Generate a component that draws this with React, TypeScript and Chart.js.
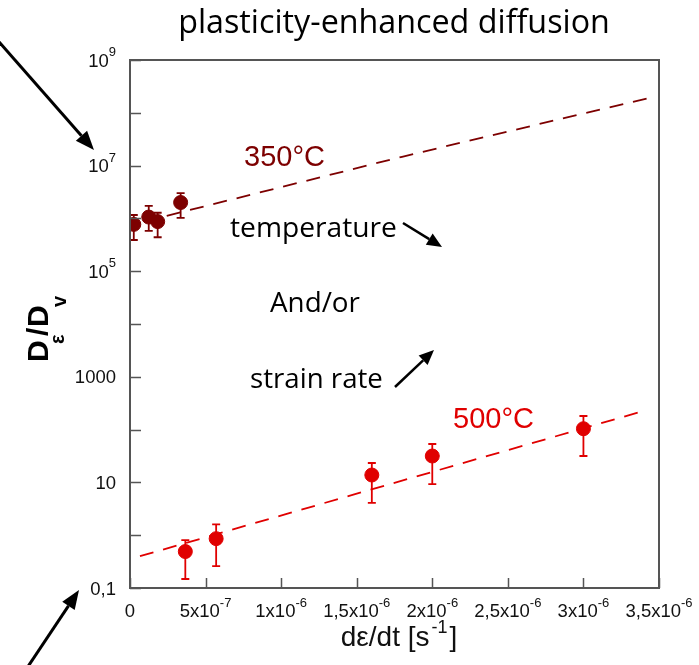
import React, { useEffect, useRef } from "react";
import { Chart, registerables } from "chart.js";

Chart.register(...registerables);

// ---------------- data ----------------
const xTickValues = [0, 5e-7, 1e-6, 1.5e-6, 2e-6, 2.5e-6, 3e-6, 3.5e-6];
const xTickBase = ["0", "5x10", "1x10", "1,5x10", "2x10", "2,5x10", "3x10", "3,5x10"];
const xTickExp = ["", "-7", "-6", "-6", "-6", "-6", "-6", "-6"];

const yMajorValues = [0.1, 10, 1000, 1e5, 1e7, 1e9];
const yTickBase = ["0,1", "10", "1000", "10", "10", "10"];
const yTickExp = ["", "", "", "5", "7", "9"];
const yMinorValues = [1, 100, 1e4, 1e6, 1e8];

// 350 °C measurements
const rate350 = [2.5e-8, 1.24e-7, 1.83e-7, 3.35e-7];
const d350 = [7.7e5, 1.06e6, 8.7e5, 2.0e6];
const d350Low = [3.9e5, 5.8e5, 4.4e5, 1.02e6];
const d350High = [1.16e6, 1.72e6, 1.28e6, 3.0e6];
// 350 °C fit
const fit350Rate = [2.43e-7, 1.8e-6, 2.82e-6, 3.44e-6];
const fit350D = [1.12e6, 1.47e7, 7.3e7, 1.93e8];

// 500 °C measurements
const rate500 = [3.66e-7, 5.7e-7, 1.6e-6, 2.0e-6, 3.0e-6];
const d500 = [0.49, 0.86, 13.8, 31.6, 104];
const d500Low = [0.148, 0.26, 4.1, 9.3, 31.6];
const d500High = [0.81, 1.61, 23.3, 53.4, 181];
// 500 °C fit
const fit500Rate = [6.6e-8, 3.42e-6];
const fit500D = [0.4, 235];

// ---------------- styles ----------------
const MAROON = "#7d0000";
const RED = "#e00000";
const AXIS = "#555555";
const SANS = '"Liberation Sans", Arial, sans-serif';
const HUM = '"Open Sans", "Noto Sans", sans-serif';

function fitSize(ctx: CanvasRenderingContext2D, text: string, family: string, target: number, weight = "normal") {
  ctx.font = `${weight} 100px ${family}`;
  const w = ctx.measureText(text).width;
  return (100 * target) / w;
}

function drawSup(
  ctx: CanvasRenderingContext2D,
  base: string,
  exp: string,
  x: number,
  y: number,
  align: "left" | "right" | "center",
  baseSize: number,
  expSize: number,
  raise: number
) {
  ctx.font = `${baseSize}px ${SANS}`;
  const wb = ctx.measureText(base).width;
  ctx.font = `${expSize}px ${SANS}`;
  const we = exp ? ctx.measureText(exp).width : 0;
  const total = wb + we;
  const x0 = align === "right" ? x - total : align === "center" ? x - total / 2 : x;
  ctx.textAlign = "left";
  ctx.textBaseline = "alphabetic";
  ctx.font = `${baseSize}px ${SANS}`;
  ctx.fillText(base, x0, y);
  if (exp) {
    ctx.font = `${expSize}px ${SANS}`;
    ctx.fillText(exp, x0 + wb, y - raise);
  }
}

function arrow(ctx: CanvasRenderingContext2D, x1: number, y1: number, x2: number, y2: number, lw: number, hl: number, hw: number) {
  const ang = Math.atan2(y2 - y1, x2 - x1);
  const bx = x2 - hl * Math.cos(ang);
  const by = y2 - hl * Math.sin(ang);
  ctx.save();
  ctx.strokeStyle = "#000";
  ctx.fillStyle = "#000";
  ctx.lineWidth = lw;
  ctx.beginPath();
  ctx.moveTo(x1, y1);
  ctx.lineTo(bx, by);
  ctx.stroke();
  ctx.beginPath();
  ctx.moveTo(x2, y2);
  ctx.lineTo(bx + hw * Math.sin(ang), by - hw * Math.cos(ang));
  ctx.lineTo(bx - hw * Math.sin(ang), by + hw * Math.cos(ang));
  ctx.closePath();
  ctx.fill();
  ctx.restore();
}

const errorBarPlugin = {
  id: "errorBars",
  beforeDatasetsDraw(chart: any) {
    const ctx: CanvasRenderingContext2D = chart.ctx;
    const xs = chart.scales.x;
    const ys = chart.scales.y;
    const groups = [
      { r: rate350, lo: d350Low, hi: d350High, c: MAROON },
      { r: rate500, lo: d500Low, hi: d500High, c: RED },
    ];
    ctx.save();
    ctx.lineWidth = 1.8;
    for (const g of groups) {
      ctx.strokeStyle = g.c;
      g.r.forEach((rv, i) => {
        const px = xs.getPixelForValue(rv);
        const pl = ys.getPixelForValue(g.lo[i]);
        const ph = ys.getPixelForValue(g.hi[i]);
        ctx.beginPath();
        ctx.moveTo(px, pl);
        ctx.lineTo(px, ph);
        ctx.moveTo(px - 4, pl);
        ctx.lineTo(px + 4, pl);
        ctx.moveTo(px - 4, ph);
        ctx.lineTo(px + 4, ph);
        ctx.stroke();
      });
    }
    ctx.restore();
  },
};

const framePlugin = {
  id: "frame",
  afterDraw(chart: any) {
    const ctx: CanvasRenderingContext2D = chart.ctx;
    const xs = chart.scales.x;
    const ys = chart.scales.y;
    const a = chart.chartArea;
    ctx.save();
    // frame
    ctx.strokeStyle = AXIS;
    ctx.lineWidth = 2;
    ctx.strokeRect(a.left, a.top, a.right - a.left, a.bottom - a.top);
    // ticks
    ctx.lineWidth = 1.5;
    ctx.beginPath();
    [...yMajorValues, ...yMinorValues].forEach((v) => {
      const py = Math.round(ys.getPixelForValue(v)) + 0.5;
      ctx.moveTo(a.left, py);
      ctx.lineTo(a.left + 11, py);
    });
    xTickValues.forEach((v) => {
      const px = Math.round(xs.getPixelForValue(v)) + 0.5;
      ctx.moveTo(px, a.bottom);
      ctx.lineTo(px, a.bottom - 10);
    });
    ctx.stroke();

    // tick labels
    ctx.fillStyle = "#111";
    yMajorValues.forEach((v, i) => {
      const py = ys.getPixelForValue(v);
      drawSup(ctx, yTickBase[i], yTickExp[i], 116, py + 6.5, "right", 18.5, 13, 10.5);
    });
    xTickValues.forEach((v, i) => {
      const px = xs.getPixelForValue(v);
      drawSup(ctx, xTickBase[i], xTickExp[i], px, 617, "center", 18.5, 13, 10.5);
    });

    // x axis title
    ctx.fillStyle = "#111";
    {
      const fs = 28;
      ctx.font = `${fs}px ${SANS}`;
      const p1 = "d\u03b5/dt [s";
      const w1 = ctx.measureText(p1).width;
      ctx.font = `18px ${SANS}`;
      const p2 = "-1";
      const w2 = ctx.measureText(p2).width;
      ctx.font = `${fs}px ${SANS}`;
      const p3 = "]";
      const w3 = ctx.measureText(p3).width;
      const x0 = 397 - (w1 + w2 + w3) / 2;
      const base = 646;
      ctx.textAlign = "left";
      ctx.fillText(p1, x0, base);
      ctx.font = `18px ${SANS}`;
      ctx.fillText(p2, x0 + w1 + 2, base - 13);
      ctx.font = `${fs}px ${SANS}`;
      ctx.fillText(p3, x0 + w1 + w2 + 4, base);
    }

    // y axis title (rotated)
    ctx.save();
    ctx.translate(48, 362);
    ctx.rotate(-Math.PI / 2);
    ctx.fillStyle = "#000";
    ctx.textAlign = "left";
    const big = `bold 30px ${SANS}`;
    const small = `bold 20px ${SANS}`;
    ctx.font = big;
    ctx.fillText("D", 0, 0);
    ctx.font = small;
    ctx.fillText("\u03b5", 18, 16);
    ctx.font = big;
    ctx.fillText("/", 26, 0);
    ctx.fillText("D", 35, 0);
    ctx.font = small;
    ctx.fillText("v", 55, 18);
    ctx.restore();

    // title
    ctx.fillStyle = "#000";
    ctx.textAlign = "center";
    {
      const t = "plasticity-enhanced diffusion";
      const fs = fitSize(ctx, t, HUM, 432);
      ctx.font = `${fs}px ${HUM}`;
      ctx.fillText(t, 394, 33);
    }

    // annotations
    ctx.textAlign = "left";
    ctx.font = `29px ${SANS}`;
    ctx.fillStyle = MAROON;
    ctx.fillText("350\u00b0C", 244, 166);
    ctx.fillStyle = RED;
    ctx.fillText("500\u00b0C", 453, 428);

    ctx.fillStyle = "#000";
    const notes: [string, number, number, number][] = [
      ["temperature", 230, 236.5, 167],
      ["And/or", 270, 311.5, 90],
      ["strain rate", 250, 388, 133],
    ];
    notes.forEach(([t, x, y, w]) => {
      const fs = fitSize(ctx, t, HUM, w);
      ctx.font = `${fs}px ${HUM}`;
      ctx.fillText(t, x, y);
    });

    arrow(ctx, 403, 223, 442, 247, 2.5, 15, 6.5);
    arrow(ctx, 395, 387, 434, 350, 2.5, 15, 6.5);
    arrow(ctx, -8, 34, 94, 150, 3, 19, 7.5);
    arrow(ctx, 27, 668, 79, 590, 3, 19, 7.5);

    ctx.restore();
  },
};

export default function App() {
  const ref = useRef<HTMLCanvasElement | null>(null);

  useEffect(() => {
    if (!ref.current) return;
    const chart = new Chart(ref.current, {
      type: "scatter",
      data: {
        datasets: [
          {
            label: "fit 350",
            data: fit350Rate.map((x, i) => ({ x, y: fit350D[i] })),
            showLine: true,
            borderColor: MAROON,
            borderWidth: 1.8,
            borderDash: [14, 10],
            pointRadius: 0,
            fill: false,
          },
          {
            label: "fit 500",
            data: fit500Rate.map((x, i) => ({ x, y: fit500D[i] })),
            showLine: true,
            borderColor: RED,
            borderWidth: 1.8,
            borderDash: [14, 10],
            pointRadius: 0,
            fill: false,
          },
          {
            label: "350°C",
            data: rate350.map((x, i) => ({ x, y: d350[i] })),
            backgroundColor: MAROON,
            borderColor: MAROON,
            borderWidth: 1,
            pointRadius: 7,
          },
          {
            label: "500°C",
            data: rate500.map((x, i) => ({ x, y: d500[i] })),
            backgroundColor: RED,
            borderColor: RED,
            borderWidth: 1,
            pointRadius: 7,
          },
        ],
      },
      options: {
        animation: false,
        responsive: false,
        devicePixelRatio: 1,
        layout: { padding: { left: 130, right: 40, top: 60, bottom: 77 } },
        plugins: {
          legend: { display: false },
          tooltip: { enabled: false },
          title: { display: false },
        },
        scales: {
          x: { type: "linear", min: 0, max: 3.5e-6, display: false },
          y: { type: "logarithmic", min: 0.1, max: 1e9, display: false },
        },
      },
      plugins: [errorBarPlugin, framePlugin],
    } as any);
    return () => chart.destroy();
  }, []);

  return (
    <div style={{ position: "fixed", left: 0, top: 0, width: 699, height: 665, background: "#fff" }}>
      <canvas ref={ref} width={699} height={665} style={{ display: "block" }} />
    </div>
  );
}
